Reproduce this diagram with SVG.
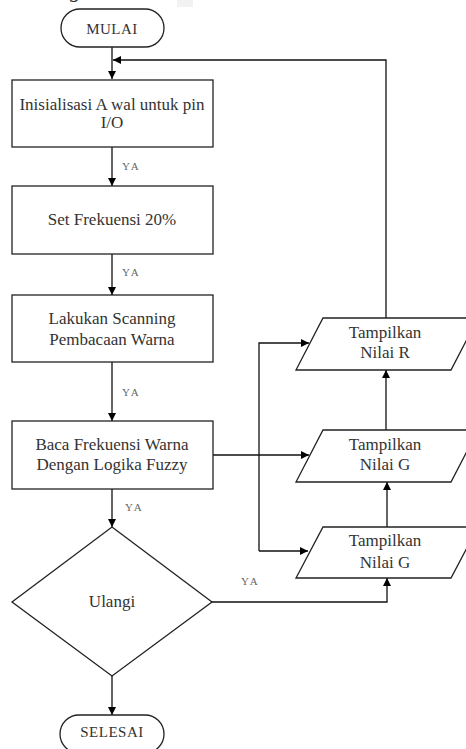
<svg xmlns="http://www.w3.org/2000/svg" width="466" height="749" viewBox="0 0 466 749">
<defs>
<marker id="ah" viewBox="0 0 10 10" refX="10" refY="5" markerWidth="8" markerHeight="8" markerUnits="userSpaceOnUse" orient="auto">
<path d="M0,0 L10,5 L0,10 Z" fill="#000"/>
</marker>
</defs>
<style>
.shape{fill:#fff;stroke:#222;stroke-width:1.3}
.t{font-family:"Liberation Serif","Times New Roman",serif;font-size:17px;fill:#333;text-anchor:middle}
.term{font-family:"Liberation Serif","Times New Roman",serif;font-size:15px;fill:#333;text-anchor:middle;letter-spacing:0.5px}
.ya{font-family:"Liberation Serif","Times New Roman",serif;font-size:11px;fill:#666;letter-spacing:2px}
.c{fill:none;stroke:#111;stroke-width:1.3}
</style>
<rect x="0" y="0" width="466" height="749" fill="#fff"/>
<rect x="177" y="0" width="16" height="7" fill="#f2f2f2"/>
<text x="70" y="-3" font-family="Liberation Serif, serif" font-style="italic" font-size="22" fill="#333">g</text>

<g id="connectors">
<path class="c" d="M112,47 V79" marker-end="url(#ah)"/>
<path class="c" d="M386,318 V60 H113" marker-end="url(#ah)"/>
<path class="c" d="M112,147 V186" marker-end="url(#ah)"/>
<path class="c" d="M112,254 V295" marker-end="url(#ah)"/>
<path class="c" d="M112,362 V421" marker-end="url(#ah)"/>
<path class="c" d="M112,489 V527" marker-end="url(#ah)"/>
<path class="c" d="M112,676 V715" marker-end="url(#ah)"/>
<path class="c" d="M213,455 H309" marker-end="url(#ah)"/>
<path class="c" d="M259,551 V343 H309" marker-end="url(#ah)"/>
<path class="c" d="M259,551 H308" marker-end="url(#ah)"/>
<path class="c" d="M386,430 V370" marker-end="url(#ah)"/>
<path class="c" d="M387,527 V482" marker-end="url(#ah)"/>
<path class="c" d="M212,602 H387 V578" marker-end="url(#ah)"/>
<text class="ya" x="122" y="170">YA</text>
<text class="ya" x="122" y="276">YA</text>
<text class="ya" x="122" y="396">YA</text>
<text class="ya" x="125" y="511">YA</text>
<text class="ya" x="241" y="585">YA</text>
</g>

<g id="mulai">
<rect class="shape" x="61" y="9" width="103" height="38" rx="19"/>
<text class="term" x="112" y="34">MULAI</text>
</g>
<g id="inisialisasi">
<rect class="shape" x="12" y="80" width="201" height="67"/>
<text class="t" x="112" y="110">Inisialisasi A wal untuk pin</text>
<text class="t" x="112" y="128">I/O</text>
</g>
<g id="set-frekuensi">
<rect class="shape" x="12" y="186" width="201" height="68"/>
<text class="t" x="112" y="225">Set Frekuensi 20%</text>
</g>
<g id="scanning">
<rect class="shape" x="12" y="295" width="201" height="67"/>
<text class="t" x="112" y="324">Lakukan Scanning</text>
<text class="t" x="112" y="345">Pembacaan Warna</text>
</g>
<g id="baca-frekuensi">
<rect class="shape" x="12" y="421" width="201" height="68"/>
<text class="t" x="112" y="450">Baca Frekuensi Warna</text>
<text class="t" x="112" y="470">Dengan Logika Fuzzy</text>
</g>
<g id="ulangi">
<polygon class="shape" points="112,527 212,602 112,676 12,602"/>
<text class="t" x="112" y="607">Ulangi</text>
</g>
<g id="selesai">
<rect class="shape" x="60" y="715" width="104" height="38" rx="19"/>
<text class="term" x="112" y="737">SELESAI</text>
</g>
<g id="tampil-r">
<polygon class="shape" points="323,318 478,318 451,370 296,370"/>
<text class="t" x="385" y="338">Tampilkan</text>
<text class="t" x="385" y="358">Nilai R</text>
</g>
<g id="tampil-g1">
<polygon class="shape" points="323,430 478,430 451,482 296,482"/>
<text class="t" x="385" y="450">Tampilkan</text>
<text class="t" x="385" y="470">Nilai G</text>
</g>
<g id="tampil-g2">
<polygon class="shape" points="323,527 478,527 451,578 296,578"/>
<text class="t" x="385" y="546">Tampilkan</text>
<text class="t" x="385" y="568">Nilai G</text>
</g>
</svg>
